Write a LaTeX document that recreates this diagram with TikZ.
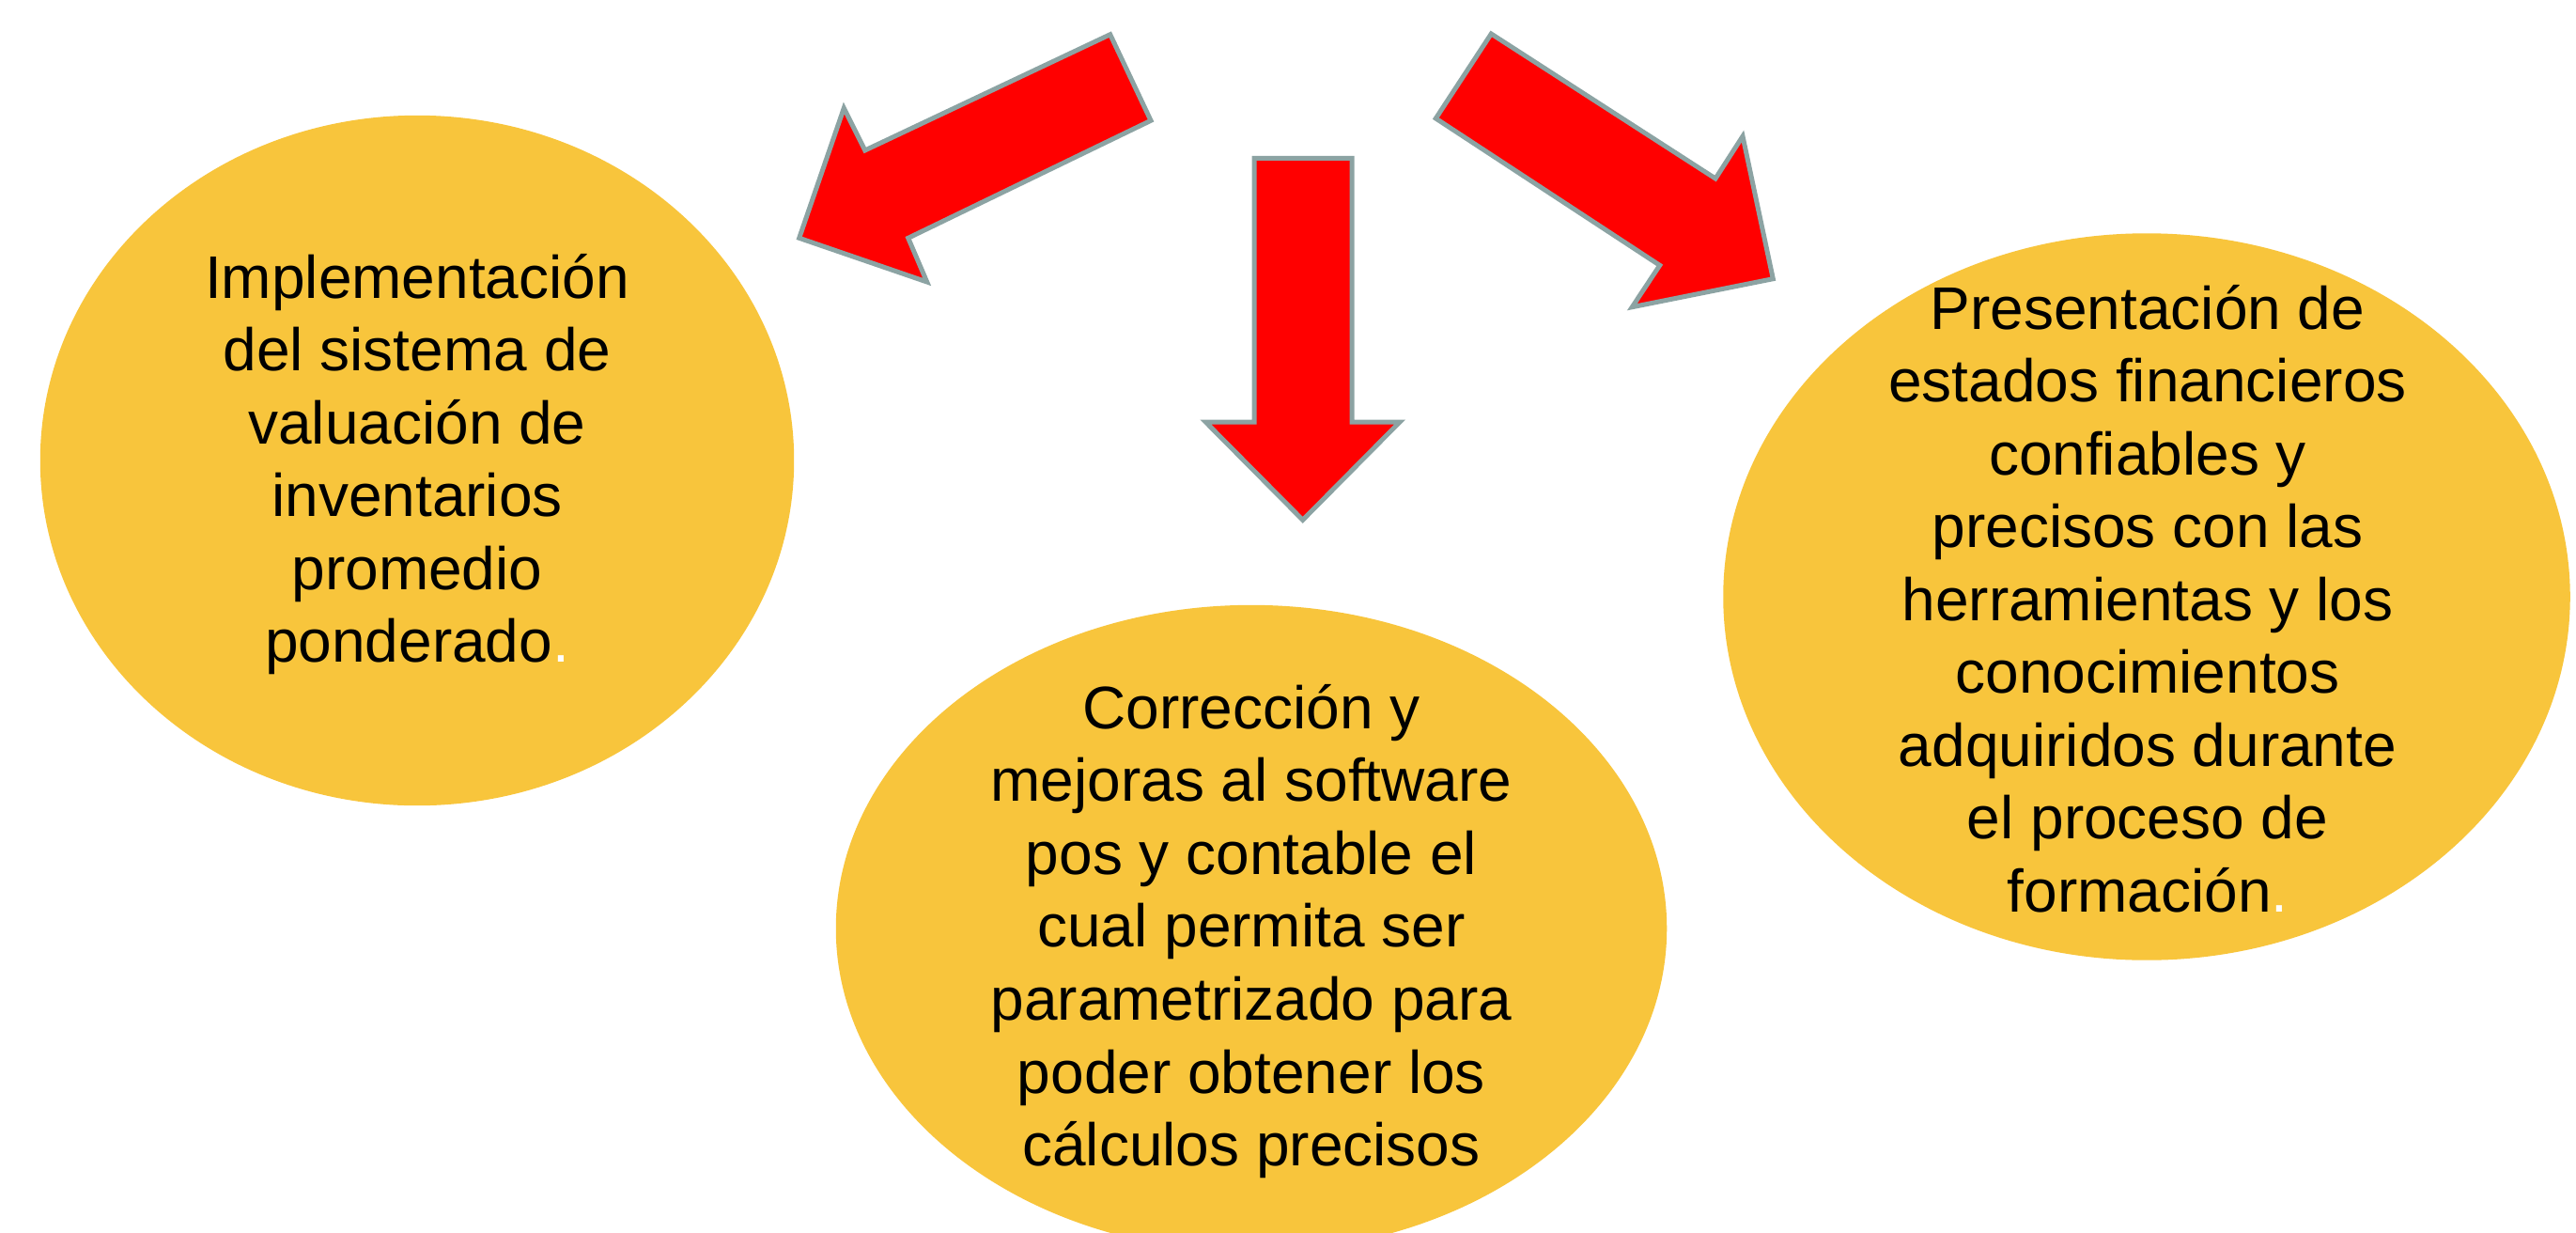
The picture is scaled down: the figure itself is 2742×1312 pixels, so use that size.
\documentclass[tikz,border=0pt]{standalone}
\usepackage{fontspec}
\setmainfont{Liberation Sans}
\usetikzlibrary{shapes.geometric}
\definecolor{bubblefill}{RGB}{248,197,60}
\definecolor{arrowedge}{RGB}{140,163,163}
\begin{document}
\begin{tikzpicture}[x=0.01cm, y=-0.01cm,
  bubble/.style={ellipse, fill=bubblefill, draw=none, inner sep=0pt},
  txt/.style={align=center, font=\fontsize{18.2}{22.05}\selectfont, text=black, inner sep=0pt},
  blockarrow/.style={fill=red, draw=arrowedge, line width=1.42pt, line join=miter}]
\clip (0,0) rectangle (2742,1312);
\fill[white] (0,0) rectangle (2742,1312);
% bubbles
\node[bubble, minimum width=8.02cm, minimum height=7.34cm] (left) at (444,490) {};
\node[bubble, minimum width=8.84cm, minimum height=6.88cm] (mid) at (1332,988) {};
\node[bubble, minimum width=9.01cm, minimum height=7.73cm] (right) at (2285,635) {};
% texts
\node[txt] (lefttext) at (444,494) {Implementación\\del sistema de\\valuación de\\inventarios\\promedio\\ponderado{\color{white}.}};
\node[txt] (midtext) at (1332,991) {Corrección y\\mejoras al software\\pos y contable el\\cual permita ser\\parametrizado para\\poder obtener los\\cálculos precisos};
\node[txt] (righttext) at (2286,637) {Presentación de\\estados financieros\\confiables y\\precisos con las\\herramientas y los\\conocimientos\\adquiridos durante\\el proceso de\\formación{\color{white}.}};
% block arrows
\draw[blockarrow] (1181.7,36.7) -- (1225,128.3) -- (966.7,253.3) -- (986.7,300) -- (850.7,253.3) -- (898.3,115) -- (920.7,160) -- cycle;
\draw[blockarrow] (1335,168.3) -- (1439,168.3) -- (1439,449) -- (1490,449) -- (1386.7,553.3) -- (1283.3,449) -- (1335,449) -- cycle;
\draw[blockarrow] (1587.3,36) -- (1826,190) -- (1855,145) -- (1887.3,296.7) -- (1737.3,326.7) -- (1766.7,282.3) -- (1528.3,126) -- cycle;
\end{tikzpicture}
\end{document}
